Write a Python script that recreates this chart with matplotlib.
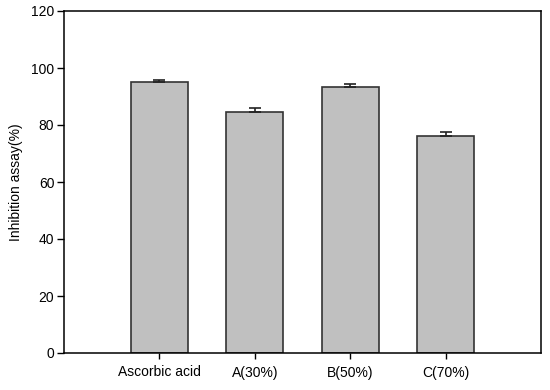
import numpy as np
import matplotlib.pyplot as plt

plt.rcParams['font.family'] = ['Liberation Sans', 'DejaVu Sans']

samples = ["Ascorbic acid", "A(30%)", "B(50%)", "C(70%)"]
inhibition = [95.2, 84.7, 93.2, 76.1]
sd = [0.6, 1.3, 1.2, 1.5]

fig = plt.figure(figsize=(5.5, 3.9), dpi=100)
ax = fig.add_axes([64 / 550, 1 - 353 / 390, 477 / 550, 342 / 390])

x = np.arange(len(samples))
ax.bar(x, inhibition, width=0.6, color="#c0c0c0", edgecolor="#333333", linewidth=1.2)
ax.errorbar(x, inhibition, yerr=[np.zeros(len(sd)), sd], fmt="none",
            ecolor="#222222", elinewidth=1.2, capsize=4, capthick=1.2)

ax.set_xlim(-1, 4)
ax.set_ylim(0, 120)
ax.set_xticks(x)
ax.set_xticklabels(samples)
ax.set_yticks(range(0, 121, 20))
ax.tick_params(axis="y", direction="out", length=5, width=1, labelsize=10, pad=2)
ax.tick_params(axis="x", direction="out", length=4, width=1, labelsize=10, pad=5)
ax.tick_params(top=False, right=False)
ax.set_ylabel("Inhibition assay(%)", fontsize=10, labelpad=6)
for s in ax.spines.values():
    s.set_linewidth(1.1)

fig.savefig("out.png")
